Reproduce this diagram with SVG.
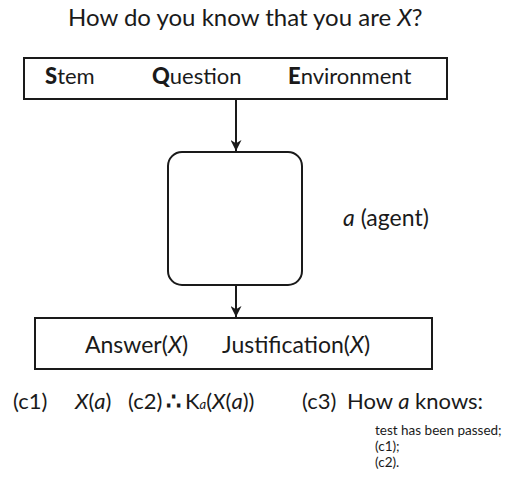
<svg xmlns="http://www.w3.org/2000/svg" width="522" height="488" viewBox="0 0 522 488">
<style>
text{font-family:Lato,"Open Sans","Liberation Sans",sans-serif;fill:#1a1a1a}
.box{fill:#fff;stroke:#1a1a1a;stroke-width:2}
.ln{stroke:#1a1a1a;stroke-width:2;fill:none}
.hd{font-size:22px}
.t{font-size:23px}
.r{font-size:22px}
.sm{font-size:13.5px}
.b{font-weight:900}
.i{font-style:italic}
</style>
<defs>
<marker id="ah" viewBox="0 0 10 10" refX="10" refY="5" markerWidth="11" markerHeight="11" markerUnits="userSpaceOnUse" orient="auto">
<path d="M0,0 L10,5 L0,10 L3,5 Z" fill="#1a1a1a"/>
</marker>
</defs>
<rect width="522" height="488" fill="#fff"/>
<text x="68" y="26" font-size="24">How do you know that you are <tspan class="i">X</tspan>?</text>
<g id="connectors">
<line class="ln" x1="236" y1="100" x2="236" y2="151" marker-end="url(#ah)"/>
<line class="ln" x1="236" y1="285" x2="236" y2="317" marker-end="url(#ah)"/>
</g>
<g id="sqe">
<rect class="box" x="24" y="58" width="423" height="41"/>
<text class="hd" x="45" y="84"><tspan class="b">S</tspan>tem</text>
<text class="hd" x="152" y="84"><tspan class="b">Q</tspan>uestion</text>
<text class="hd" x="288" y="84"><tspan class="b">E</tspan>nvironment</text>
</g>
<g id="agent">
<rect class="box" x="168" y="152" width="134" height="133" rx="14"/>
</g>
<g id="agent-label">
<text class="t" x="343" y="226"><tspan class="i">a</tspan> (agent)</text>
</g>
<g id="answer">
<rect class="box" x="35" y="318" width="397" height="51"/>
<text class="t" x="85" y="353">Answer(<tspan class="i">X</tspan>)</text>
<text class="t" x="222" y="353">Justification(<tspan class="i">X</tspan>)</text>
</g>
<g id="conditions">
<text class="r" x="13" y="409">(c1)</text>
<text class="r" x="75" y="409"><tspan class="i">X</tspan>(<tspan class="i">a</tspan>)</text>
<text class="r" x="128" y="409">(c2)</text>
<text x="166" y="410" font-size="24" font-weight="bold" font-family="'DejaVu Sans',sans-serif">∴</text>
<text class="r" x="185" y="409">K<tspan class="i" font-size="13">a</tspan>(<tspan class="i">X</tspan>(<tspan class="i">a</tspan>))</text>
<text class="r" x="302" y="409">(c3)</text>
<text class="r" x="347" y="409">How <tspan class="i">a</tspan> knows:</text>
<text class="sm" x="375" y="435">test has been passed;</text>
<text class="sm" x="375" y="451">(c1);</text>
<text class="sm" x="375" y="467">(c2).</text>
</g>
</svg>
